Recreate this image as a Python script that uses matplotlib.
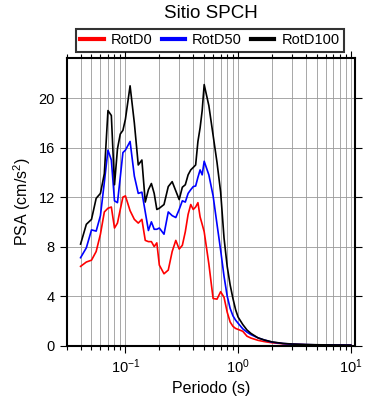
import matplotlib
matplotlib.use('Agg')
import matplotlib.pyplot as plt
from matplotlib.ticker import LogLocator, MultipleLocator, NullFormatter

plt.rcParams['font.family'] = ['Liberation Sans', 'DejaVu Sans']
plt.rcParams['mathtext.default'] = 'regular'

# periods (s) and spectral accelerations (cm/s2)
periods = [0.04, 0.045, 0.05, 0.055, 0.06, 0.065, 0.07, 0.075, 0.08, 0.085,
           0.09, 0.095, 0.10, 0.11, 0.12, 0.13, 0.14, 0.15, 0.16, 0.17,
           0.18, 0.19, 0.20, 0.22, 0.24, 0.26, 0.28, 0.30, 0.32, 0.34,
           0.36, 0.38, 0.40, 0.42, 0.44, 0.46, 0.48, 0.50, 0.55, 0.60,
           0.65, 0.70, 0.75, 0.80, 0.85, 0.90, 0.95, 1.0, 1.1, 1.2,
           1.3, 1.5, 1.7, 2.0, 2.5, 3.0, 4.0, 5.0, 6.0, 7.5, 10.0]

rotd100 = [8.2, 9.8, 10.2, 11.9, 12.3, 13.9, 19.0, 18.6, 13.0, 15.9,
           17.1, 17.4, 18.3, 21.0, 18.0, 14.6, 15.0, 11.6, 12.6, 13.1,
           12.3, 11.0, 11.1, 11.4, 12.85, 13.25, 12.5, 11.8, 12.8, 13.0,
           13.8, 14.2, 14.4, 14.6, 16.5, 17.6, 19.0, 21.1, 19.4, 17.0,
           14.8, 12.4, 8.7, 6.4, 4.9, 3.8, 2.9, 2.3, 1.7, 1.25,
           0.98, 0.62, 0.45, 0.29, 0.17, 0.12, 0.08, 0.06, 0.05, 0.04, 0.03]

rotd50 = [7.1, 7.9, 9.35, 9.25, 10.5, 13.2, 15.8, 15.0, 11.7, 11.55,
          13.6, 15.6, 15.8, 16.5, 13.7, 12.3, 12.4, 10.8, 9.3, 10.0,
          9.4, 9.4, 9.5, 9.0, 10.8, 10.5, 10.35, 11.0, 11.7, 11.6,
          12.3, 12.6, 12.85, 12.9, 13.6, 14.2, 13.8, 14.9, 13.8, 12.1,
          9.8, 7.7, 5.6, 4.0, 3.0, 2.4, 2.05, 1.8, 1.35, 1.08,
          0.88, 0.62, 0.45, 0.27, 0.16, 0.11, 0.07, 0.05, 0.045, 0.035, 0.03]

rotd0 = [6.4, 6.75, 6.9, 7.6, 9.0, 10.8, 11.1, 11.2, 9.5, 9.9,
         11.0, 12.0, 12.1, 10.9, 10.2, 9.9, 10.2, 8.5, 8.4, 8.4,
         8.0, 8.3, 6.5, 5.8, 6.1, 7.6, 8.5, 7.8, 8.1, 9.2,
         10.6, 11.4, 11.0, 11.2, 11.55, 10.4, 9.8, 9.2, 6.6, 3.8,
         3.75, 4.35, 3.9, 2.7, 1.9, 1.55, 1.38, 1.3, 1.15, 0.75,
         0.6, 0.42, 0.32, 0.22, 0.14, 0.1, 0.06, 0.05, 0.04, 0.035, 0.03]

fig = plt.figure(figsize=(3.9, 4.0), dpi=100)
ax = fig.add_axes([66.5 / 390, 54.5 / 400, 288.5 / 390, 287.5 / 400])

ax.plot(periods, rotd0, color='red', lw=1.2, label='RotD0')
ax.plot(periods, rotd50, color='blue', lw=1.2, label='RotD50')
ax.plot(periods, rotd100, color='black', lw=1.2, label='RotD100')

ax.set_xscale('log')
ax.set_xlim(0.03, 10.9)
ax.set_ylim(0, 23.25)
ax.yaxis.set_major_locator(MultipleLocator(4))
ax.xaxis.set_major_locator(LogLocator(base=10, numticks=10))
ax.xaxis.set_minor_locator(LogLocator(base=10, subs=range(2, 10), numticks=20))
ax.xaxis.set_minor_formatter(NullFormatter())

ax.grid(True, which='both', axis='x', color='#999999', lw=0.6)
ax.grid(True, which='major', axis='y', color='#999999', lw=0.6)

for s in ax.spines.values():
    s.set_linewidth(1.5)
ax.tick_params(which='both', direction='out', top=True, right=True, labelsize=10.5, width=0.8)
ax.tick_params(which='major', length=5)
ax.tick_params(which='minor', length=3)

ax.set_xlabel('Periodo (s)', fontsize=11.5)
ax.set_ylabel('PSA (cm/s$^2$)', fontsize=11.5)

fig.text(210.7 / 390, 1 - 13 / 400, 'Sitio SPCH', ha='center', va='center', fontsize=13.5)

leg = fig.legend(loc='center', ncol=3,
                 bbox_to_anchor=(210 / 390, 1 - 40.5 / 400),
                 fontsize=10.5, frameon=True, fancybox=False,
                 handlelength=1.6, handletextpad=0.5, columnspacing=0.6,
                 borderpad=0.3)
leg.get_frame().set_edgecolor('black')
leg.get_frame().set_linewidth(1.5)
for line in leg.get_lines():
    line.set_linewidth(3)

fig.savefig('out.png', dpi=100)
